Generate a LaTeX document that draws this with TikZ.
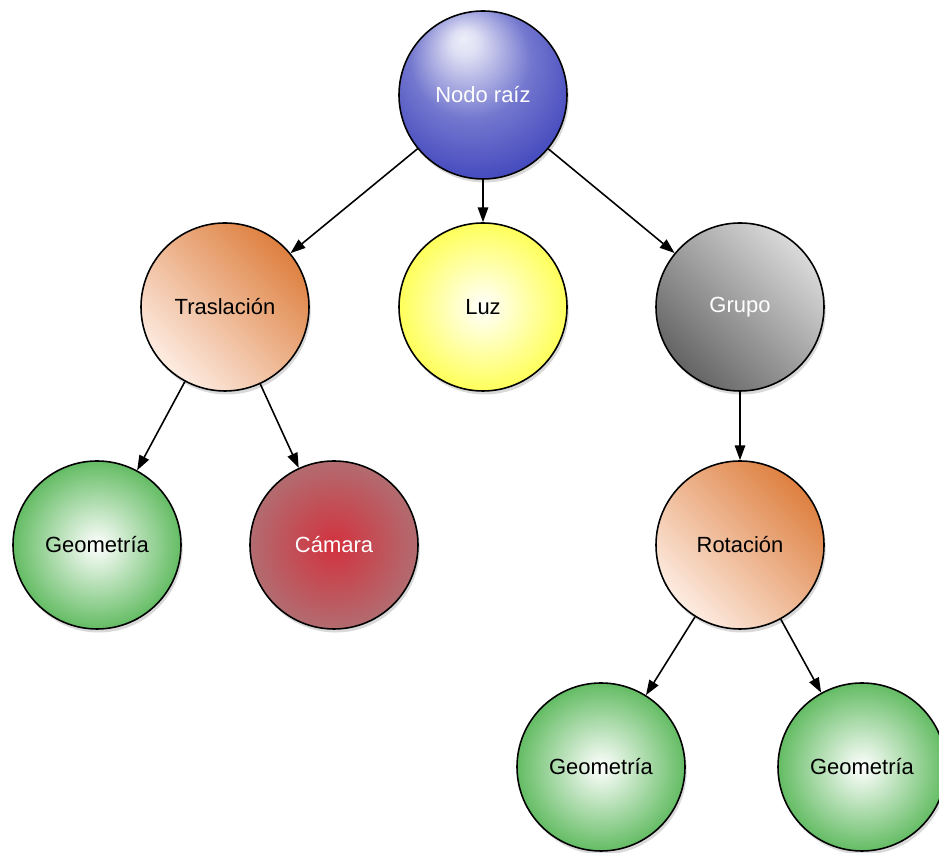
\documentclass[tikz,border=0pt]{standalone}
\usepackage{fontspec}
\setmainfont{Liberation Sans}
\usetikzlibrary{shadows,arrows.meta}

\definecolor{raizblue}{RGB}{40,46,180}
\definecolor{trasdark}{RGB}{222,128,64}
\definecolor{traslight}{RGB}{253,236,226}
\definecolor{luzyellow}{RGB}{255,255,90}
\definecolor{grupolight}{RGB}{218,218,218}
\definecolor{grupodark}{RGB}{100,100,100}
\definecolor{geogreen}{RGB}{100,188,100}
\definecolor{camred}{RGB}{210,50,62}
\definecolor{camouter}{RGB}{178,108,112}

\pgfdeclareradialshading{raizball}{\pgfpoint{-6bp}{17bp}}{%
  color(0bp)=(raizblue!8!white); color(4bp)=(raizblue!15!white);
  color(18bp)=(raizblue!65!white); color(40bp)=(raizblue);
  color(50bp)=(raizblue)}

\begin{document}
\begin{tikzpicture}[
  nodo/.style={draw=black, circle, line width=0.9pt, minimum size=3.36cm,
    inner sep=0pt, font=\fontsize{12.5}{15}\selectfont,
    drop shadow={opacity=0.3, shadow xshift=1pt, shadow yshift=-2pt}},
  geo/.style={nodo, inner color=white, outer color=geogreen},
  naranja/.style={nodo, top color=trasdark, bottom color=traslight, shading angle=-45},
  flecha/.style={-{Triangle[length=8.5pt,width=6pt]}, line width=0.9pt}
]
  \useasboundingbox (0,0) rectangle (18.78,17.06);

  % nivel 0
  \node[nodo, shading=raizball, text=white] (raiz) at (9.66,15.16) {Nodo raíz};

  % nivel 1
  \node[naranja] (tras) at (4.50,10.92) {Traslación};
  \node[nodo, inner color=white, outer color=luzyellow] (luz) at (9.66,10.92) {Luz};
  \node[nodo, top color=grupolight, bottom color=grupodark, shading angle=-45,
    text=white] (grupo) at (14.80,10.92) {Grupo};

  % nivel 2
  \node[geo] (geo1) at (1.94,6.16) {Geometría};
  \node[nodo, inner color=camred, outer color=camouter, text=white] (cam) at (6.68,6.16) {Cámara};
  \node[naranja] (rot) at (14.80,6.16) {Rotación};

  % nivel 3
  \node[geo] (geo2) at (12.02,1.72) {Geometría};
  \node[geo] (geo3) at (17.24,1.72) {Geometría};

  \draw[flecha] (raiz) -- (tras);
  \draw[flecha] (raiz) -- (luz);
  \draw[flecha] (raiz) -- (grupo);
  \draw[flecha] (tras) -- (geo1);
  \draw[flecha] (tras) -- (cam);
  \draw[flecha] (grupo) -- (rot);
  \draw[flecha] (rot) -- (geo2);
  \draw[flecha] (rot) -- (geo3);
\end{tikzpicture}
\end{document}
